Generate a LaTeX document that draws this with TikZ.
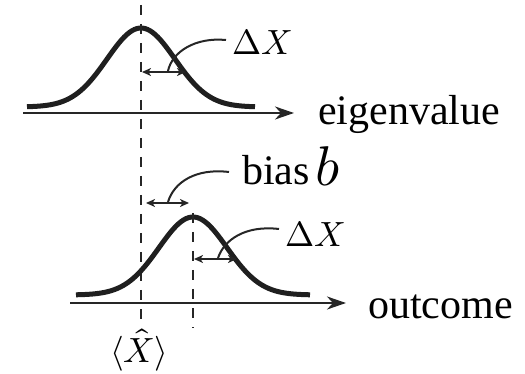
\documentclass[tikz,border=0pt]{standalone}
\usepackage{fontspec}
\usepackage{unicode-math}
\setmainfont{Liberation Serif}
\setmathfont{Latin Modern Math}
\usetikzlibrary{arrows.meta}
\tikzset{
  gauss/.style={line width=5pt, line cap=butt, black!88},
  axis/.style={line width=2.4pt, black!85, -{Stealth[length=19pt,width=13pt,inset=6pt]}},
  guide/.style={line width=2.5pt, black!85, dash pattern=on 10pt off 9pt},
  width arrow/.style={line width=2pt, black!85, {Stealth[length=9pt,width=8pt,inset=2.5pt]}-{Stealth[length=9pt,width=8pt,inset=2.5pt]}},
  leader/.style={line width=2pt, black!85},
  lbl/.style={inner sep=0pt, font=\fontsize{42}{46}\selectfont},
  mlbl/.style={inner sep=0pt, font=\fontsize{35}{40}\selectfont},
  blbl/.style={inner sep=0pt, font=\fontsize{56}{60}\selectfont},
}
\begin{document}
\begin{tikzpicture}[x=1pt,y=-1pt]
\useasboundingbox (0,0) rectangle (525,374);
% top panel
\draw[gauss] plot[domain=-114:114, samples=90, smooth] ({\x+141},{107-79*exp(-(\x*\x)/(2*34*34))});
\coordinate (a1s) at (23,113);
\coordinate (a1e) at (294,113);
\draw[axis] (a1s) -- (a1e);
\coordinate (g1t) at (141,5);
\coordinate (g1b) at (141,322);
\draw[guide] (g1t) -- (g1b);
\coordinate (w1l) at (142,72);
\coordinate (w1r) at (186,72);
\draw[width arrow] (w1l) -- (w1r);
\node[mlbl, anchor=base west] (dx1) at (232,55) {$\Delta X$};
\coordinate (l1s) at (226,40);
\coordinate (l1e) at (168,71);
\draw[leader] (l1s) .. controls (195,37) and (172,52) .. (l1e);
\node[lbl, anchor=base west] (eig) at (318,125) {eigenvalue};
% bias
\coordinate (wbl) at (146,203);
\coordinate (wbr) at (189,203);
\draw[width arrow] (wbl) -- (wbr);
\node[lbl, anchor=base west] (bias) at (242,185) {bias};
\node[blbl, anchor=base west] (bsym) at (315,186) {$b$};
\coordinate (lbs) at (229,172);
\coordinate (lbe) at (168,202);
\draw[leader] (lbs) .. controls (196,168) and (174,182) .. (lbe);
% lower panel
\draw[gauss] plot[domain=-117:117, samples=90, smooth] ({\x+193},{295-78*exp(-(\x*\x)/(2*34*34))});
\coordinate (a2s) at (70,303);
\coordinate (a2e) at (346,303);
\draw[axis] (a2s) -- (a2e);
\coordinate (g2t) at (193,213);
\coordinate (g2b) at (193,328);
\draw[guide] (g2t) -- (g2b);
\coordinate (w2l) at (194,259);
\coordinate (w2r) at (237,259);
\draw[width arrow] (w2l) -- (w2r);
\node[mlbl, anchor=base west] (dx2) at (285,247) {$\Delta X$};
\coordinate (l2s) at (279,229);
\coordinate (l2e) at (218,258);
\draw[leader] (l2s) .. controls (245,225) and (224,240) .. (l2e);
\node[lbl, anchor=base west] (out) at (368,318) {outcome};
\node[mlbl] (mean) at (139,350) {$\langle\hat{X}\rangle$};
\end{tikzpicture}
\end{document}
